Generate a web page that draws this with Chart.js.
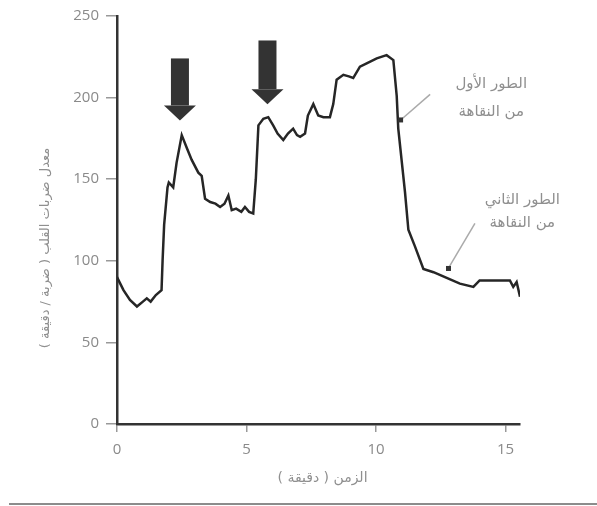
<!DOCTYPE html>
<html>
<head>
  <meta charset="utf-8">
  <title>معدل ضربات القلب أثناء التمرين والنقاهة</title>
  <script src="https://cdn.jsdelivr.net/npm/chart.js"></script>
  <style>
    body {
      margin: 0;
      background: #fff;
      font-family: "Noto Sans", "DejaVu Sans", sans-serif;
    }
    .wrap {
      position: relative;
      width: 597px;
      height: 506px;
    }
    .rule {
      position: absolute;
      left: 9px;
      right: 0;
      top: 503px;
      height: 2px;
      background: #8c8c8c;
    }
  </style>
</head>
<body>
<div class="wrap">
  <canvas id="chartHR" width="597" height="506"></canvas>
  <div class="rule"></div>
</div>

<script>
  // time (minutes) and heart rate (beats / minute)
  const timeMin = [0, 0.25, 0.5, 0.77, 1.0, 1.15, 1.3, 1.5, 1.72, 1.76, 1.82, 1.95, 2.0, 2.17, 2.3, 2.5,
    2.7, 2.88, 3.14, 3.27, 3.4, 3.6, 3.8, 3.98, 4.15, 4.3, 4.43, 4.6, 4.8, 4.94, 5.1, 5.26,
    5.36, 5.46, 5.65, 5.84, 6.03, 6.2, 6.42, 6.6, 6.8, 6.95, 7.07, 7.26, 7.37, 7.58, 7.77, 7.97,
    8.22, 8.35, 8.48, 8.74, 8.95, 9.12, 9.38, 9.64, 10.03, 10.41, 10.67, 10.8, 10.86, 11.0,
    11.12, 11.25, 11.5, 11.83, 12.22, 12.73, 13.24, 13.76, 14.0, 14.6, 15.17, 15.3, 15.43, 15.56];
  const heartRate = [90, 82, 76, 72, 75, 77, 75, 79, 82, 100, 122, 145, 148, 145, 160, 177,
    169, 162, 154, 152, 138, 136, 135, 133, 135, 140, 131, 132, 130, 133, 130, 129,
    150, 183, 187, 188, 183, 178, 174, 178, 181, 177, 176, 178, 189, 196, 189, 188,
    188, 196, 211, 214, 213, 212, 219, 221, 224, 226, 223, 201, 181, 160,
    142, 119, 109, 95, 93, 89.5, 86, 84, 88, 88, 88, 84, 87, 78];

  const xTicks = [0, 5, 10, 15];
  const yTicks = [0, 50, 100, 150, 200, 250];

  // downward arrows marking the two exercise increases
  const arrowX = [2.43, 5.81];
  const arrowTop = [224, 235];
  const arrowTip = [186, 196];

  // recovery phase labels
  const phaseLines = [['الطور الأول', 'من النقاهة'], ['الطور الثاني', 'من النقاهة']];
  const phaseTextX = [14.45, 15.65];
  const phaseTextY = [[208, 191], [137, 123]];
  const leaderFrom = [[10.93, 186], [12.78, 95]];
  const leaderTo = [[12.09, 202], [13.82, 123]];

  const xTitle = 'الزمن ( دقيقة )';
  const yTitle = 'معدل ضربات القلب ( ضربة / دقيقة )';

  const points = timeMin.map((t, i) => ({ x: t, y: heartRate[i] }));

  const extras = {
    id: 'extras',
    afterDatasetsDraw(chart) {
      const { ctx, chartArea, scales: { x, y } } = chart;
      ctx.save();

      // arrows
      ctx.fillStyle = '#333';
      arrowX.forEach((ax, i) => {
        const cx = x.getPixelForValue(ax);
        const top = y.getPixelForValue(arrowTop[i]);
        const tip = y.getPixelForValue(arrowTip[i]);
        const headStart = tip - 15;
        ctx.fillRect(cx - 9, top, 18, headStart - top);
        ctx.beginPath();
        ctx.moveTo(cx - 16, headStart);
        ctx.lineTo(cx + 16, headStart);
        ctx.lineTo(cx, tip);
        ctx.closePath();
        ctx.fill();
      });

      // leader lines
      leaderFrom.forEach((f, i) => {
        const x1 = x.getPixelForValue(f[0]), y1 = y.getPixelForValue(f[1]);
        const x2 = x.getPixelForValue(leaderTo[i][0]), y2 = y.getPixelForValue(leaderTo[i][1]);
        ctx.strokeStyle = '#aaa';
        ctx.lineWidth = 1.5;
        ctx.beginPath();
        ctx.moveTo(x1, y1);
        ctx.lineTo(x2, y2);
        ctx.stroke();
        ctx.fillStyle = '#333';
        ctx.fillRect(x1 - 2, y1 - 3, 5, 5);
      });

      // phase texts
      ctx.fillStyle = '#8f8f8f';
      ctx.font = '15px "DejaVu Sans", sans-serif';
      ctx.textAlign = 'center';
      ctx.textBaseline = 'middle';
      phaseLines.forEach((lines, i) => {
        lines.forEach((s, j) => {
          ctx.fillText(s, x.getPixelForValue(phaseTextX[i]), y.getPixelForValue(phaseTextY[i][j]));
        });
      });

      // axis titles
      ctx.font = '14px "DejaVu Sans", sans-serif';
      ctx.fillText(xTitle, (chartArea.left + chartArea.right) / 2 + 4, chartArea.bottom + 54);
      ctx.font = '13px "DejaVu Sans", sans-serif';
      ctx.translate(46, chartArea.bottom - 176);
      ctx.rotate(-Math.PI / 2);
      ctx.fillText(yTitle, 0, 0);
      ctx.restore();
    }
  };

  new Chart(document.getElementById('chartHR').getContext('2d'), {
    type: 'line',
    data: {
      datasets: [{
        data: points,
        borderColor: '#262626',
        borderWidth: 2.5,
        pointRadius: 0,
        tension: 0,
        fill: false
      }]
    },
    options: {
      responsive: false,
      animation: false,
      layout: { padding: { top: 15, left: 0, right: 77, bottom: 0 } },
      plugins: {
        legend: { display: false },
        tooltip: { enabled: false }
      },
      scales: {
        x: {
          type: 'linear',
          min: 0,
          max: 15.56,
          afterFit: s => { s.height = 82; },
          afterBuildTicks: s => { s.ticks = xTicks.map(v => ({ value: v })); },
          ticks: { color: '#8a8a8a', padding: 9, font: { size: 15, family: '"Open Sans", sans-serif' } },
          grid: { drawOnChartArea: false, drawTicks: true, tickLength: 8, color: '#999', lineWidth: 1.5 },
          border: { color: '#333', width: 2.5 }
        },
        y: {
          min: 0,
          max: 250,
          afterFit: s => { s.width = 117; },
          afterBuildTicks: s => { s.ticks = yTicks.map(v => ({ value: v })); },
          ticks: { color: '#8a8a8a', padding: 7, font: { size: 15, family: '"Open Sans", sans-serif' } },
          grid: { drawOnChartArea: false, drawTicks: true, tickLength: 11, color: '#999', lineWidth: 1.5 },
          border: { color: '#333', width: 2.5 }
        }
      }
    },
    plugins: [extras]
  });
</script>
</body>
</html>
